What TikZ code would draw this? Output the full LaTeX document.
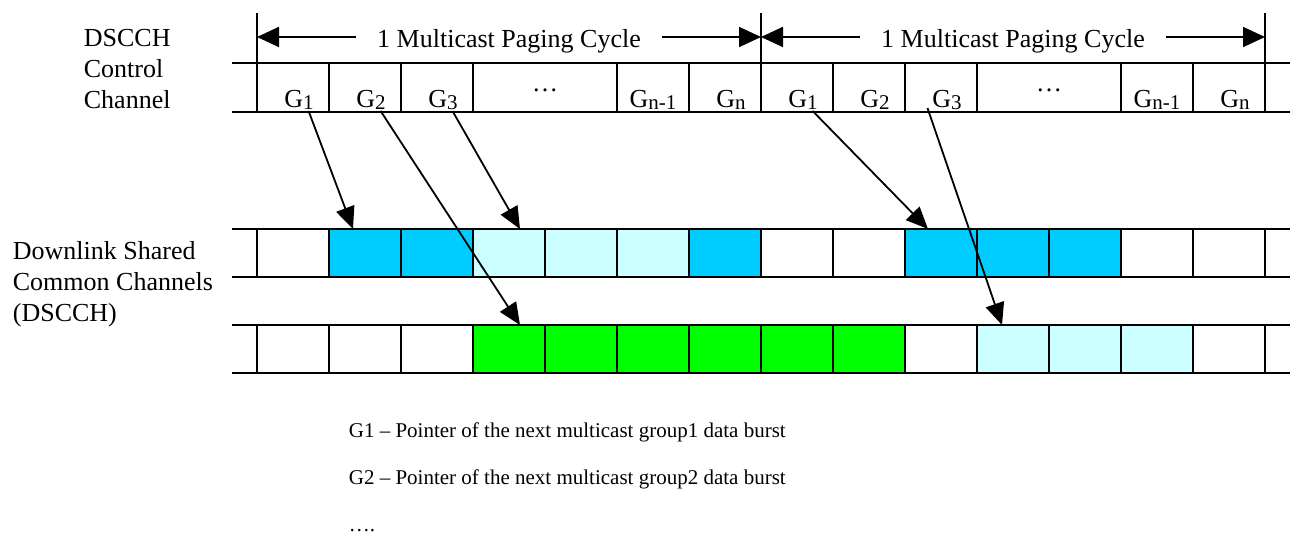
\documentclass[tikz,border=0pt]{standalone}
\usepackage{fontspec}
\setmainfont{Liberation Serif}
\usetikzlibrary{positioning, calc, math, arrows.meta}
\definecolor{burst}{HTML}{00CCFF}
\definecolor{pale}{HTML}{CCFFFF}
\definecolor{grn}{HTML}{00FF00}
\newcommand\gsub[1]{\raisebox{-1pt}{\fontsize{10.5}{10.5}\selectfont #1}}
\tikzset{
every node/.style = {font = \fontsize{13}{15.5}\selectfont},
slot/.style = {rectangle, draw, line width = 0.9pt, minimum width = 36pt,
   minimum height = 24pt, inner sep = 0pt, outer sep = 0pt},
gname/.style = {anchor = base, inner sep = 0pt},
pointer/.style = {-{Triangle[length = 11pt, width = 9.5pt]}, line width = 0.9pt},
span/.style = {-{Triangle[length = 11pt, width = 10pt]}, line width = 0.9pt},
cyclename/.style = {anchor = base, inner xsep = 10pt, inner ysep = 0pt},
channame/.style = {anchor = north west, align = left, inner sep = 0pt},
legend/.style = {anchor = north west, align = left, inner sep = 0pt,
   font = \fontsize{10.5}{23.5}\selectfont}
}

\begin{document}
\begin{tikzpicture}[x = 0.5pt, y = -0.5pt, line width = 0.9pt]
\useasboundingbox (0,0) rectangle (1295,535);

%% Channel names
\node [channame] (ctrl) at (83,28) {DSCCH\\Control\\Channel};
\node [channame] (shared) at (12,241) {Downlink Shared\\Common Channels\\(DSCCH)};

%% Time lines
\foreach \y in {63, 112, 229, 277, 325, 373}
   \draw (232,\y) -- (1290,\y);

%% Control channel slots
\foreach \c/\dx in {a/0, b/504} {
   \foreach \i/\x/\w in {1/293/36, 2/365/36, 3/437/36, 4/545/72, 5/653/36, 6/725/36}
      \node [slot, minimum width = \w pt, minimum height = 24.5pt] (\c\i) at (\x + \dx, 87.5) {};
   \foreach \i/\s/\sh in {1/1/3, 2/2/3, 3/3/3, 5/n-1/0, 6/n/3}
      \node [gname] (g\c\i) at ([xshift = \sh pt, yshift = 2pt]\c\i.south) {G\gsub{\s}};
   \node (dots\c) at ([yshift = -1.5pt]\c4.center) {\dots};
}

%% Shared channel slots
\foreach \col [count = \k from 0] in {white, burst, burst, pale, pale, pale, burst,
   white, white, burst, burst, burst, white, white} {
   \tikzmath{\x = 293 + 72 * \k;}
   \node [slot, fill = \col] (b\k) at (\x, 253) {};
}
\foreach \col [count = \k from 0] in {white, white, white, grn, grn, grn, grn,
   grn, grn, white, pale, pale, pale, white} {
   \tikzmath{\x = 293 + 72 * \k;}
   \node [slot, fill = \col] (d\k) at (\x, 349) {};
}

%% Paging cycles
\foreach \t/\x in {0/257, 1/761, 2/1265}
   \coordinate (tk\t) at (\x, 37);
\foreach \t in {0,1,2}
   \draw ([yshift = 12pt]tk\t) -- (tk\t |- a1.south);
\node [cyclename] (cyca) at (509,48) {1 Multicast Paging Cycle};
\node [cyclename] (cycb) at (1013,48) {1 Multicast Paging Cycle};
\draw [span] (cyca.west |- tk0) -- (tk0);
\draw [span] (cyca.east |- tk1) -- (tk1);
\draw [span] (cycb.west |- tk1) -- (tk1);
\draw [span] (cycb.east |- tk2) -- (tk2);

%% Pointers
\draw [pointer] ([xshift = -3pt]ga1.south east) -- ([xshift = -6pt]b1.north);
\draw [pointer] ([xshift = -3pt]ga2.south east) -- ([xshift = 5.5pt]d3.north);
\draw [pointer] ([xshift = -3pt]ga3.south east) -- ([xshift = 5.5pt]b3.north);
\draw [pointer] ([xshift = -3pt]gb1.south east) -- ([xshift = -6.5pt]b9.north);
\draw [pointer] ([xshift = -2pt]gb3.base west) -- ([xshift = -5.5pt]d10.north);

%% Legend
\node [legend] (key) at (348,422) {G1 -- Pointer of the next multicast group1 data burst\\
   G2 -- Pointer of the next multicast group2 data burst\\….};

\end{tikzpicture}
\end{document}
